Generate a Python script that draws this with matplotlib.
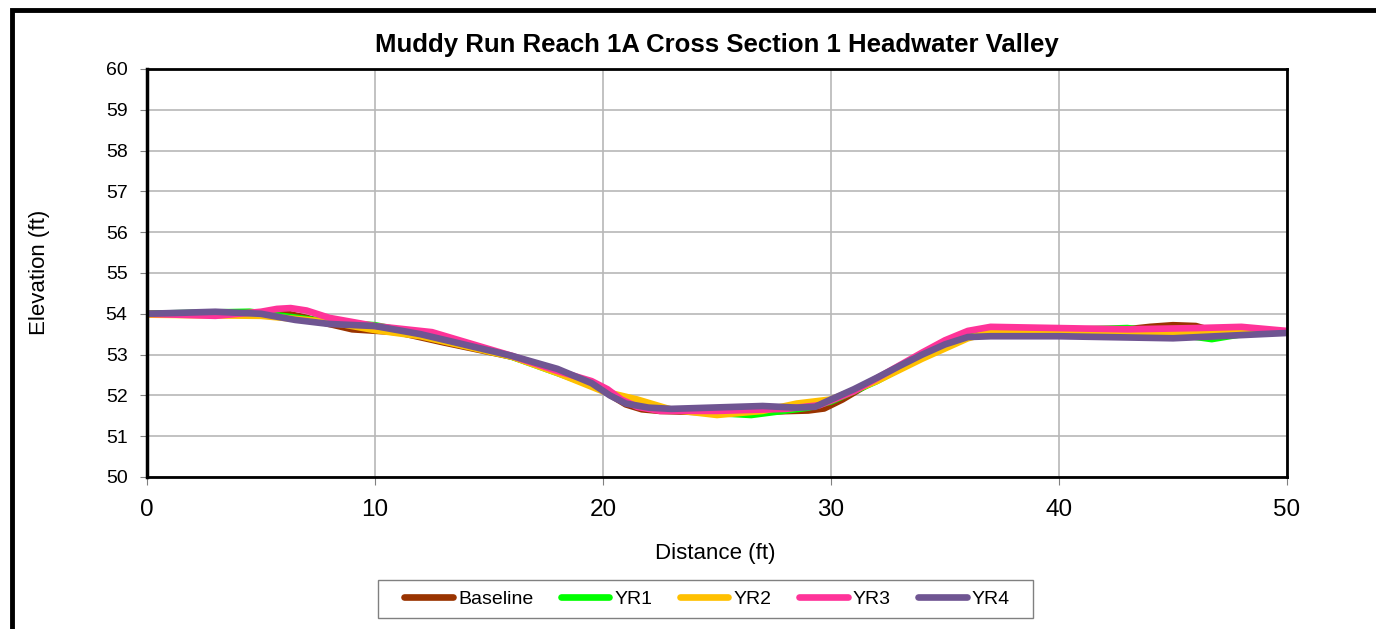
import matplotlib
matplotlib.use("Agg")
import matplotlib.pyplot as plt
from matplotlib.patches import Rectangle

plt.rcParams['font.family'] = ['Liberation Sans', 'DejaVu Sans']

# station (ft) / elevation (ft)
base_x = [0, 3, 5, 6, 7, 8, 9, 11, 13, 16, 18, 19.5, 20.5, 21, 21.7, 22.5, 25, 27, 29, 29.7, 30.5, 32, 34, 35, 36, 37, 40, 43, 44, 45, 46, 46.5, 48, 50]
base_y = [54.0, 54.02, 54.0, 54.02, 53.9, 53.75, 53.62, 53.55, 53.3, 52.95, 52.6, 52.3, 51.95, 51.78, 51.66, 51.62, 51.58, 51.6, 51.63, 51.68, 51.9, 52.4, 53.0, 53.3, 53.5, 53.6, 53.6, 53.62, 53.68, 53.72, 53.7, 53.62, 53.55, 53.55]

yr1_x = [0, 4.5, 8, 10, 12, 16, 18, 20, 21, 22, 24, 26.5, 29, 30, 32, 34, 36, 37, 40, 43, 44.5, 46.7, 48, 50]
yr1_y = [54.0, 54.05, 53.8, 53.72, 53.5, 52.95, 52.55, 52.15, 51.85, 51.7, 51.6, 51.52, 51.7, 51.85, 52.35, 52.95, 53.45, 53.55, 53.6, 53.65, 53.55, 53.38, 53.5, 53.55]

yr2_x = [0, 5, 8, 10, 12, 16, 18, 20, 21.5, 23, 25, 27, 28.5, 30, 32, 34, 36, 37, 40, 45, 50]
yr2_y = [53.98, 53.95, 53.8, 53.6, 53.45, 52.95, 52.55, 52.1, 51.9, 51.65, 51.52, 51.62, 51.8, 51.9, 52.35, 52.9, 53.4, 53.55, 53.55, 53.55, 53.55]

yr3_x = [0, 3, 5, 5.7, 6.3, 7, 8, 10, 12.5, 16, 18, 19.5, 20.2, 20.8, 21.5, 22.5, 25, 28, 29.5, 31, 34, 35, 36, 37, 40, 43, 46, 48, 50]
yr3_y = [54.0, 53.95, 54.05, 54.12, 54.14, 54.08, 53.9, 53.7, 53.55, 52.97, 52.6, 52.35, 52.15, 51.9, 51.72, 51.62, 51.62, 51.67, 51.76, 52.1, 53.05, 53.35, 53.58, 53.68, 53.65, 53.62, 53.65, 53.68, 53.58]

yr4_x = [0, 3, 5, 6.5, 8, 10, 12, 16, 18, 19.5, 20.3, 21, 22, 23, 27, 28.5, 29.3, 30, 31, 32, 33, 34, 35, 36, 37, 40, 45, 50]
yr4_y = [54.0, 54.05, 54.0, 53.85, 53.75, 53.7, 53.5, 52.97, 52.65, 52.3, 52.0, 51.8, 51.7, 51.67, 51.74, 51.7, 51.72, 51.9, 52.15, 52.43, 52.72, 53.0, 53.25, 53.43, 53.45, 53.45, 53.4, 53.53]

series = [
    ("Baseline", base_x, base_y, "#993300"),
    ("YR1", yr1_x, yr1_y, "#00FF00"),
    ("YR2", yr2_x, yr2_y, "#FFC000"),
    ("YR3", yr3_x, yr3_y, "#FF3399"),
    ("YR4", yr4_x, yr4_y, "#6F5592"),
]

fig = plt.figure(figsize=(13.76, 6.29), dpi=100)
ax = fig.add_axes([147 / 1376, 1 - 477 / 629, (1287 - 147) / 1376, (477 - 69) / 629])

for name, xs, ys, col in series:
    ax.plot(xs, ys, color=col, linewidth=4.8, label=name, solid_capstyle='round', solid_joinstyle='round')

ax.set_xlim(0, 50)
ax.set_ylim(50, 60)
ax.set_xticks(range(0, 51, 10))
ax.set_yticks(range(50, 61, 1))
ax.grid(True, color='#b8b8b8', linewidth=1.2)
ax.set_axisbelow(True)
for s in ax.spines.values():
    s.set_color('black')
    s.set_linewidth(2)
ax.spines['left'].set_linewidth(2.5)
ax.tick_params(axis='y', labelsize=14, length=5, color='#808080', direction='out', pad=9)
ax.tick_params(axis='x', labelsize=17.5, length=6, color='#808080', direction='out', pad=10)

ax.set_title("Muddy Run Reach 1A Cross Section 1 Headwater Valley", fontsize=18.5, fontweight='bold', pad=12)
ax.set_xlabel("Distance (ft)", fontsize=16)
ax.xaxis.set_label_coords(0.5 + (715 - 717) / 1140, (477 - 553) / 408, transform=ax.transAxes)
ax.set_ylabel("Elevation (ft)", fontsize=16)
ax.yaxis.set_label_coords((40 - 147) / 1140, (477 - 272) / 408, transform=ax.transAxes)
ax.xaxis.label.set_va('center')
ax.yaxis.label.set_va('center')

leg = fig.legend(loc='center', bbox_to_anchor=(707 / 1376, 1 - 599 / 629), ncol=5, fontsize=14,
                 frameon=False, handlelength=2.5, handletextpad=0.25, columnspacing=1.42, borderpad=0.0)

# legend box drawn separately (wider side padding than the legend frame allows)
fig.patches.append(Rectangle((378 / 1376, 1 - 618 / 629), (1033 - 378) / 1376, 38 / 629,
                             transform=fig.transFigure, fill=False, edgecolor='#808080', linewidth=1.0))

# outer chart frame (runs off the right and bottom edges)
fig.patches.append(Rectangle((12 / 1376, -0.1), 1.2, 1 - 10 / 629 + 0.1, transform=fig.transFigure,
                             fill=False, edgecolor='black', linewidth=3.5, zorder=10))

fig.savefig("out.png", dpi=100)
